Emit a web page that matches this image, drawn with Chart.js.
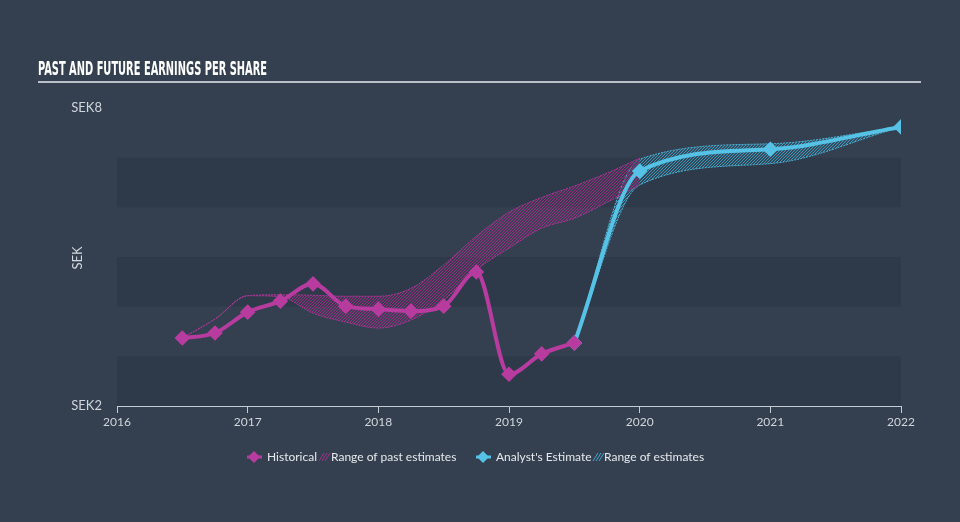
<!DOCTYPE html>
<html>
<head>
<meta charset="utf-8">
<script src="https://cdn.jsdelivr.net/npm/chart.js@4.4.1/dist/chart.umd.min.js"></script>
<style>
  html, body { margin: 0; padding: 0; background: #344050; }
  #wrap { width: 960px; height: 522px; }
</style>
</head>
<body>
<div id="wrap"><canvas id="epsChart" width="960" height="522"></canvas></div>
<script>
// Historical EPS (decimal years)
const histDates = [2016.5, 2016.75, 2017.0, 2017.25, 2017.5, 2017.75, 2018.0, 2018.25, 2018.5, 2018.75, 2019.0, 2019.25, 2019.5];
const histEps = [3.37, 3.47, 3.89, 4.11, 4.46, 4.01, 3.95, 3.91, 4.01, 4.70, 2.64, 3.05, 3.27];

// Range of past estimates
const pastDates = [2016.5, 2016.75, 2017.0, 2017.25, 2017.5, 2017.75, 2018.0, 2018.25, 2018.5, 2018.75, 2019.0, 2019.25, 2019.5, 2019.75, 2020.0];
const pastHigh = [3.37, 3.75, 4.22, 4.24, 4.23, 4.21, 4.21, 4.37, 4.84, 5.42, 5.90, 6.20, 6.43, 6.69, 6.99];
const pastLow = [3.37, 3.75, 4.22, 4.20, 3.87, 3.69, 3.57, 3.73, 4.13, 4.74, 5.18, 5.58, 5.78, 6.10, 6.45];

// Analyst estimates
const estDates = [2019.5, 2020.0, 2021.0, 2022.0];
const estEps = [3.27, 6.73, 7.17, 7.62];
const estHigh = [3.27, 6.97, 7.28, 7.62];
const estLow = [3.27, 6.45, 6.88, 7.62];

const yTicks = [2, 8];
const legendItems = ["Historical", "Range of past estimates", "Analyst's Estimate", "Range of estimates"];

const PINK = "#b83b9f";
const BLUE = "#55c2e6";
const FONT = "Lato, 'Open Sans', sans-serif";

const pts = (xs, ys) => xs.map((x, i) => ({ x: x, y: ys[i] }));

function hatch(tint, line) {
    const c = document.createElement("canvas");
    c.width = 3;
    c.height = 3;
    const g = c.getContext("2d");
    g.fillStyle = tint;
    g.fillRect(0, 0, 3, 3);
    g.fillStyle = line;
    for (let i = 0; i < 3; i++) {
        g.fillRect(i, 2 - i, 1, 1);
    }
    return g.createPattern(c, "repeat");
}

const pinkHatch = hatch("rgba(170,50,150,0.10)", "rgb(150,48,132)");
const blueHatch = hatch("rgba(80,190,228,0.10)", "rgb(62,150,185)");

// background, bands, title, axis title and legend
const decor = {
    id: "decor",
    beforeDraw(chart) {
        const { ctx, chartArea: a, scales } = chart;
        ctx.save();
        ctx.fillStyle = "#344050";
        ctx.fillRect(0, 0, chart.width, chart.height);
        ctx.fillStyle = "rgba(20,28,40,0.16)";
        [2, 4, 6].forEach((v) => {
            const y0 = scales.y.getPixelForValue(v);
            const y1 = scales.y.getPixelForValue(v + 1);
            ctx.fillRect(a.left, y1, a.right - a.left, y0 - y1);
        });

        // title squeezed to a condensed look
        ctx.fillStyle = "#ffffff";
        ctx.font = "bold 19px 'Liberation Sans Narrow', 'DejaVu Sans Condensed', sans-serif";
        ctx.textBaseline = "alphabetic";
        const title = "PAST AND FUTURE EARNINGS PER SHARE";
        const w = ctx.measureText(title).width;
        ctx.save();
        ctx.translate(38, 75);
        ctx.scale(229 / w, 1);
        ctx.fillText(title, 0, 0);
        ctx.restore();
        ctx.strokeStyle = "#b9c0c8";
        ctx.lineWidth = 2;
        ctx.beginPath();
        ctx.moveTo(38, 82);
        ctx.lineTo(921, 82);
        ctx.stroke();

        // y axis title
        ctx.save();
        ctx.translate(78, 258);
        ctx.rotate(-Math.PI / 2);
        ctx.fillStyle = "#d3d8de";
        ctx.font = "13px " + FONT;
        ctx.textAlign = "center";
        ctx.textBaseline = "middle";
        ctx.fillText("SEK", 0, 0);
        ctx.restore();
        ctx.restore();
    },
    afterDraw(chart) {
        const ctx = chart.ctx;
        const y = 457;
        ctx.save();
        ctx.font = "12px " + FONT;
        ctx.textBaseline = "middle";
        ctx.fillStyle = "#e6e9ec";

        const seriesIcon = (x, color) => {
            ctx.strokeStyle = color;
            ctx.lineWidth = 3;
            ctx.beginPath();
            ctx.moveTo(x, y);
            ctx.lineTo(x + 15, y);
            ctx.stroke();
            ctx.fillStyle = color;
            ctx.beginPath();
            ctx.moveTo(x + 7, y - 6);
            ctx.lineTo(x + 13, y);
            ctx.lineTo(x + 7, y + 6);
            ctx.lineTo(x + 1, y);
            ctx.closePath();
            ctx.fill();
            ctx.fillStyle = "#e6e9ec";
        };
        const hatchIcon = (x, color) => {
            ctx.strokeStyle = color;
            ctx.lineWidth = 1;
            ctx.beginPath();
            for (let i = 0; i < 3; i++) {
                ctx.moveTo(x + i * 3, y + 4);
                ctx.lineTo(x + i * 3 + 5, y - 4);
            }
            ctx.stroke();
        };

        seriesIcon(247, PINK);
        ctx.fillText(legendItems[0], 267, y);
        hatchIcon(319, "rgb(160,50,140)");
        ctx.fillText(legendItems[1], 331, y);
        seriesIcon(476, BLUE);
        ctx.fillText(legendItems[2], 496, y);
        hatchIcon(593, "rgb(70,165,200)");
        ctx.fillText(legendItems[3], 604, y);
        ctx.restore();
    },
};

const rangeLine = (color) => ({
    borderColor: color,
    borderWidth: 1,
    borderDash: [2, 1],
    pointRadius: 0,
    cubicInterpolationMode: "monotone",
});

new Chart(document.getElementById("epsChart"), {
    type: "line",
    data: {
        datasets: [
            {
                label: "Historical",
                data: pts(histDates, histEps),
                borderColor: PINK,
                backgroundColor: PINK,
                borderWidth: 4,
                pointStyle: "rectRot",
                pointRadius: 5,
                cubicInterpolationMode: "monotone",
                fill: false,
            },
            {
                label: "Analyst's Estimate",
                data: pts(estDates, estEps),
                borderColor: BLUE,
                backgroundColor: BLUE,
                borderWidth: 4,
                pointStyle: "rectRot",
                pointRadius: 5,
                cubicInterpolationMode: "monotone",
                fill: false,
            },
            Object.assign({ label: "pastHigh", data: pts(pastDates, pastHigh), fill: false }, rangeLine("rgb(170,55,150)")),
            Object.assign({ label: "pastLow", data: pts(pastDates, pastLow), fill: "-1", backgroundColor: pinkHatch }, rangeLine("rgb(170,55,150)")),
            Object.assign({ label: "estHigh", data: pts(estDates, estHigh), fill: false }, rangeLine("rgb(75,175,210)")),
            Object.assign({ label: "estLow", data: pts(estDates, estLow), fill: "-1", backgroundColor: blueHatch }, rangeLine("rgb(75,175,210)")),
        ],
    },
    options: {
        responsive: false,
        animation: false,
        devicePixelRatio: 1,
        layout: { padding: { top: 108, right: 59, bottom: 0, left: 0 } },
        plugins: {
            legend: { display: false },
            tooltip: { enabled: false },
            title: { display: false },
        },
        scales: {
            x: {
                type: "linear",
                min: 2016,
                max: 2022,
                afterFit: (s) => { s.height = 116; },
                ticks: {
                    stepSize: 1,
                    padding: 2,
                    color: "#cfd5db",
                    font: { family: FONT, size: 12 },
                    callback: (v) => String(v),
                },
                grid: {
                    drawOnChartArea: false,
                    drawTicks: true,
                    tickLength: 7,
                    color: "#c3cbd3",
                },
                border: { display: true, color: "#c3cbd3", width: 1 },
            },
            y: {
                min: 2,
                max: 8,
                afterFit: (s) => { s.width = 117; },
                ticks: {
                    stepSize: 1,
                    padding: 15,
                    color: "#cfd5db",
                    font: { family: FONT, size: 13 },
                    callback: (v) => (yTicks.includes(v) ? "SEK" + v : ""),
                },
                grid: { display: false, drawTicks: false },
                border: { display: false },
            },
        },
    },
    plugins: [decor],
});
</script>
</body>
</html>
